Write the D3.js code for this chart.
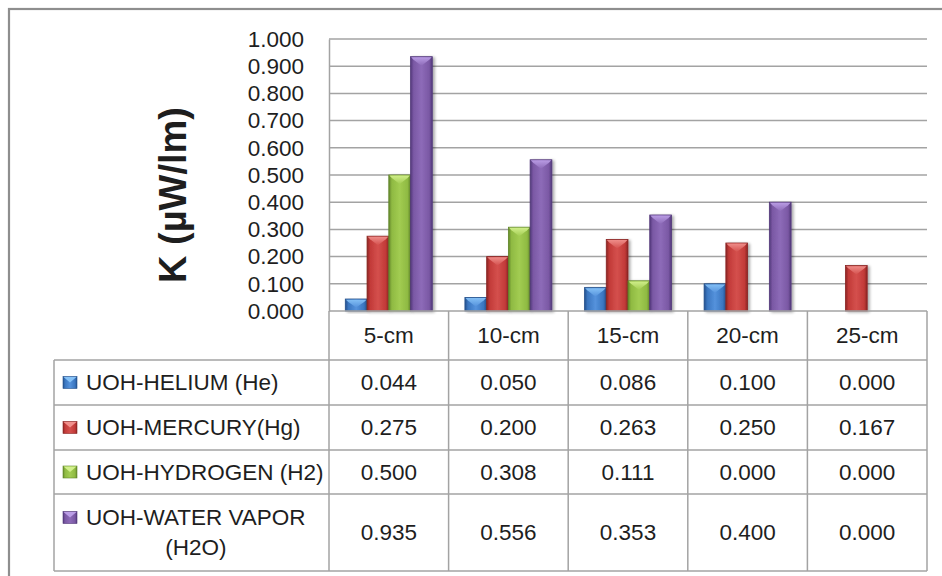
<!DOCTYPE html>
<html>
<head>
<meta charset="utf-8">
<script src="https://cdn.jsdelivr.net/npm/d3@7"></script>
<style>
  html, body { margin: 0; padding: 0; background: #fff; }
  svg { display: block; }
  text { font-family: "Liberation Sans", Arial, sans-serif; fill: #1e1e1e; }
</style>
</head>
<body>
<svg id="chart" width="942" height="576"></svg>
<script>
// Distance categories along the x axis
const categories = ["5-cm", "10-cm", "15-cm", "20-cm", "25-cm"];

// Series names (legend / table row headers)
const seriesNames = [
  ["UOH-HELIUM (He)"],
  ["UOH-MERCURY(Hg)"],
  ["UOH-HYDROGEN (H2)"],
  ["UOH-WATER VAPOR", "(H2O)"]
];

// K values (µW/lm) per series, one per category
const helium     = [0.044, 0.050, 0.086, 0.100, 0.000];
const mercury    = [0.275, 0.200, 0.263, 0.250, 0.167];
const hydrogen   = [0.500, 0.308, 0.111, 0.000, 0.000];
const waterVapor = [0.935, 0.556, 0.353, 0.400, 0.000];

// Y axis ticks
const yTicks = [0, 0.1, 0.2, 0.3, 0.4, 0.5, 0.6, 0.7, 0.8, 0.9, 1.0];

const seriesValues = [helium, mercury, hydrogen, waterVapor];

// Colour ramps for each series: dark edge, base, light centre, bevel highlight
const palette = [
  { dark: "#24508c", base: "#3a76c0", light: "#5592dc", bevel: "#86c2f7" },
  { dark: "#8a2523", base: "#c23a38", light: "#d4504d", bevel: "#f0908c" },
  { dark: "#62862a", base: "#8fba42", light: "#a2cc52", bevel: "#d2f08c" },
  { dark: "#52387a", base: "#7a58a4", light: "#8d6bb8", bevel: "#bb9ee6" }
];

const svg = d3.select("#chart");
const defs = svg.append("defs");

palette.forEach((c, i) => {
  const g = defs.append("linearGradient").attr("id", "barGrad" + i)
    .attr("x1", "0%").attr("x2", "100%").attr("y1", "0%").attr("y2", "0%");
  [[0, c.dark], [0.14, c.base], [0.5, c.light], [0.86, c.base], [1, c.dark]]
    .forEach(([o, col]) => g.append("stop").attr("offset", o).attr("stop-color", col));
  const b = defs.append("linearGradient").attr("id", "bevelGrad" + i)
    .attr("x1", "0%").attr("x2", "0%").attr("y1", "0%").attr("y2", "100%");
  b.append("stop").attr("offset", 0).attr("stop-color", c.bevel);
  b.append("stop").attr("offset", 1).attr("stop-color", c.light);
});

const shadow = defs.append("filter").attr("id", "barShadow")
  .attr("x", "-20%").attr("y", "-10%").attr("width", "160%").attr("height", "130%");
shadow.append("feGaussianBlur").attr("in", "SourceAlpha").attr("stdDeviation", 1.6).attr("result", "blur");
shadow.append("feOffset").attr("in", "blur").attr("dx", 2).attr("dy", 1).attr("result", "off");
shadow.append("feComponentTransfer").attr("in", "off").attr("result", "soft")
  .append("feFuncA").attr("type", "linear").attr("slope", 0.35);
const merge = shadow.append("feMerge");
merge.append("feMergeNode").attr("in", "soft");
merge.append("feMergeNode").attr("in", "SourceGraphic");

// Layout
const plot = { left: 329, right: 927, top: 39, bottom: 311 };
const table = { left: 54, rows: [360, 405, 450, 494, 571] };
const lineColor = "#a3a3a3";
const fontSize = 22.5;

// Chart frame
svg.append("rect").attr("x", 9).attr("y", 9).attr("width", 960).attr("height", 600)
  .attr("fill", "none").attr("stroke", "#8e8e8e").attr("stroke-width", 2.2);

const y = d3.scaleLinear().domain([0, 1]).range([plot.bottom, plot.top]);
const x0 = d3.scaleBand().domain(categories).range([plot.left, plot.right]).padding(0);
const gap = 1.5; // gap width relative to one bar
const barW = x0.bandwidth() / (seriesValues.length + gap);
const x1 = d3.scaleBand().domain(d3.range(seriesValues.length))
  .range([barW * gap / 2, x0.bandwidth() - barW * gap / 2]).padding(0);

// Gridlines
svg.append("g").selectAll("line").data(yTicks.slice(1)).join("line")
  .attr("x1", plot.left).attr("x2", plot.right)
  .attr("y1", d => y(d)).attr("y2", d => y(d))
  .attr("stroke", lineColor).attr("stroke-width", 1.5);

// Y axis (ticks drawn as labels only)
const yAxis = d3.axisLeft(y).tickValues(yTicks).tickFormat(d3.format(".3f")).tickSize(0).tickPadding(25);
const yg = svg.append("g").attr("transform", `translate(${plot.left},0)`).call(yAxis);
yg.select(".domain").attr("stroke", lineColor).attr("stroke-width", 1.5);
yg.selectAll("text").attr("font-size", fontSize).attr("font-family", null).attr("fill", "#1e1e1e");

// Y axis title
svg.append("text")
  .attr("transform", `translate(186,${(plot.top + plot.bottom) / 2 + 20}) rotate(-90)`)
  .attr("text-anchor", "middle").attr("font-size", 38).attr("font-weight", "bold")
  .attr("fill", "#000").text("K (µW/lm)");

// Bars
const groups = svg.append("g").selectAll("g").data(categories).join("g")
  .attr("transform", d => `translate(${x0(d)},0)`);

groups.each(function (cat, ci) {
  const g = d3.select(this);
  seriesValues.map((vals, si) => ({ si, v: vals[ci] })).filter(d => d.v > 0).forEach(d => {
    const bx = x1(d.si), bw = x1.bandwidth();
    const top = y(d.v), h = plot.bottom - top;
    const bar = g.append("g").attr("filter", "url(#barShadow)");
    bar.append("rect").attr("x", bx).attr("y", top).attr("width", bw).attr("height", h)
      .attr("fill", `url(#barGrad${d.si})`).attr("stroke", palette[d.si].dark)
      .attr("stroke-width", 0.8);
    const bev = Math.min(9, h * 0.7);
    bar.append("path")
      .attr("d", `M${bx + 0.6},${top + 0.6} L${bx + bw - 0.6},${top + 0.6} L${bx + bw - 3},${top + 3} L${bx + bw / 2},${top + bev} L${bx + 3},${top + 3} Z`)
      .attr("fill", `url(#bevelGrad${d.si})`).attr("opacity", 0.95);
  });
});

// Data table lines
const tl = svg.append("g").attr("stroke", lineColor).attr("stroke-width", 1.5);
tl.append("line").attr("x1", plot.left).attr("x2", plot.right)
  .attr("y1", plot.bottom).attr("y2", plot.bottom);
table.rows.forEach(ry => tl.append("line").attr("x1", table.left).attr("x2", plot.right)
  .attr("y1", ry).attr("y2", ry));
const bounds = categories.map(c => x0(c)).concat([plot.right]);
bounds.forEach(bx => tl.append("line").attr("x1", bx).attr("x2", bx)
  .attr("y1", plot.bottom).attr("y2", table.rows[table.rows.length - 1]));
tl.append("line").attr("x1", table.left).attr("x2", table.left)
  .attr("y1", table.rows[0]).attr("y2", table.rows[table.rows.length - 1]);

// Category header labels
svg.append("g").selectAll("text").data(categories).join("text")
  .attr("x", d => x0(d) + x0.bandwidth() / 2).attr("y", (plot.bottom + table.rows[0]) / 2)
  .attr("dy", "0.35em").attr("text-anchor", "middle").attr("font-size", fontSize).text(d => d);

// Value cells
seriesValues.forEach((vals, si) => {
  const cy = (table.rows[si] + table.rows[si + 1]) / 2;
  svg.append("g").selectAll("text").data(vals).join("text")
    .attr("x", (d, ci) => x0(categories[ci]) + x0.bandwidth() / 2).attr("y", cy)
    .attr("dy", "0.35em").attr("text-anchor", "middle").attr("font-size", fontSize)
    .text(d => d3.format(".3f")(d));
});

// Legend keys and series names
seriesNames.forEach((lines, si) => {
  const r0 = table.rows[si], r1 = table.rows[si + 1];
  const cy = (r0 + r1) / 2;
  const lh = 30;
  const firstY = cy - (lines.length - 1) * lh / 2;
  const kx = 63, ky = firstY - 6, kw = 14, kh = 12;
  svg.append("rect").attr("x", kx).attr("y", ky).attr("width", kw).attr("height", kh)
    .attr("fill", `url(#barGrad${si})`).attr("stroke", palette[si].dark).attr("stroke-width", 0.6);
  svg.append("path")
    .attr("d", `M${kx + 0.5},${ky + 0.5} L${kx + kw - 0.5},${ky + 0.5} L${kx + kw / 2},${ky + 6} Z`)
    .attr("fill", palette[si].bevel);
  const t0 = svg.append("text").attr("x", 86).attr("y", firstY).attr("dy", "0.35em")
    .attr("font-size", fontSize).text(lines[0]);
  const w0 = t0.node().getComputedTextLength();
  lines.slice(1).forEach((ln, li) => {
    svg.append("text").attr("x", 86 + w0 / 2).attr("y", firstY + (li + 1) * lh)
      .attr("dy", "0.35em").attr("text-anchor", "middle").attr("font-size", fontSize).text(ln);
  });
});
</script>
</body>
</html>
